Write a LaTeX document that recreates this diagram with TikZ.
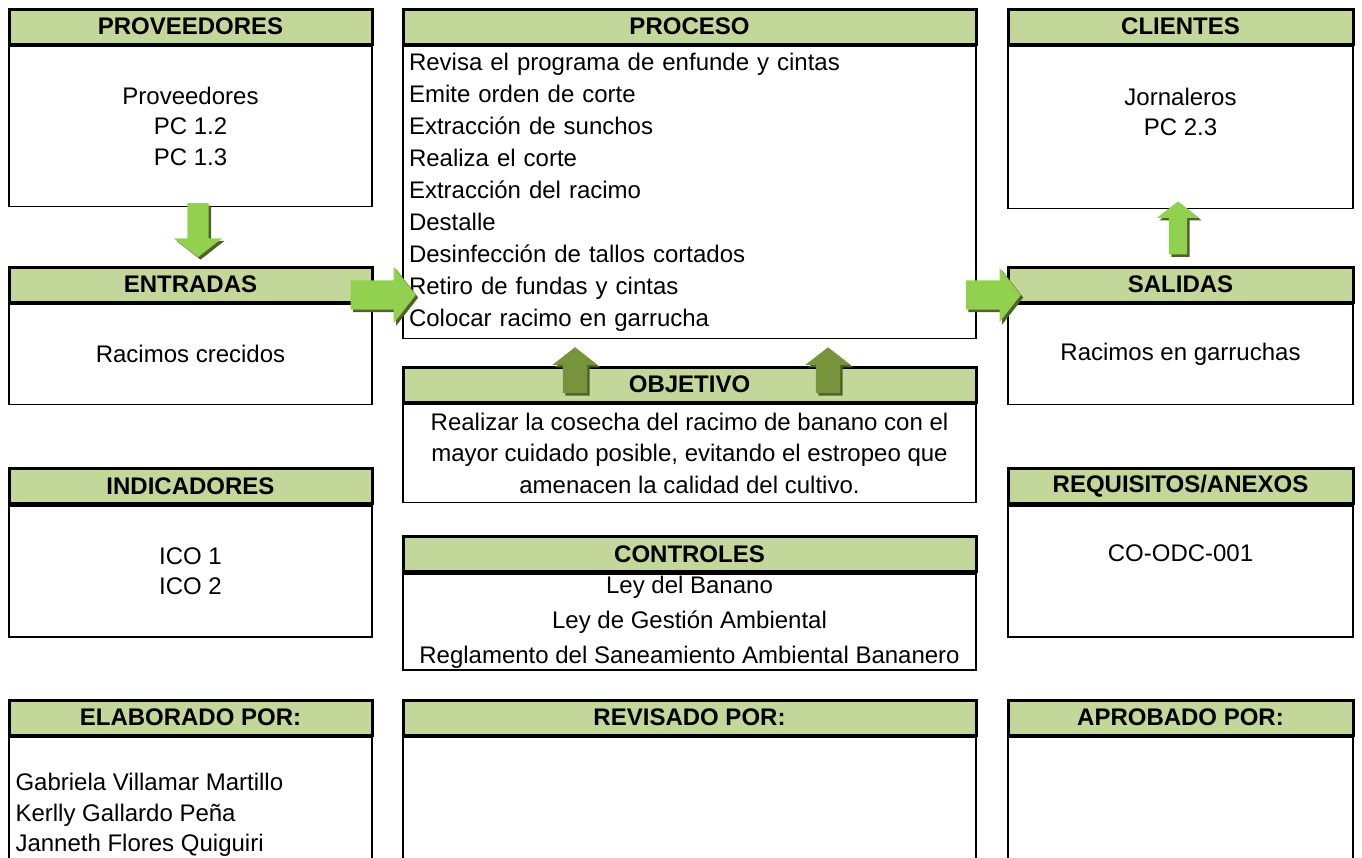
\documentclass[tikz,border=0pt]{standalone}
\usepackage{fontspec}
\setmainfont{Liberation Sans}
\usetikzlibrary{shapes.arrows}
\usetikzlibrary{shadows}
\definecolor{hdrgreen}{HTML}{C4D79B}
\definecolor{arrgreen}{HTML}{92D050}
\definecolor{arrdark}{HTML}{77933C}
\definecolor{arrshadow}{HTML}{4F6228}

\begin{document}
\begin{tikzpicture}[
    x=1pt, y=-1pt,
    every node/.style={font=\fontsize{24}{30.5}\selectfont},
    hdr/.style={draw, line width=3pt, fill=hdrgreen, inner sep=0pt,
        minimum height=35pt, font=\fontsize{24}{28}\selectfont\bfseries},
    bodybox/.style={draw, line width=1.6pt, inner sep=0pt, anchor=north, align=center},
    colL/.style={minimum width=363pt},
    colM/.style={minimum width=573pt},
    colR/.style={minimum width=345pt},
    blockarr/.style={single arrow, fill=arrgreen, inner xsep=0pt,
        single arrow head indent=0pt, single arrow tip angle=104,
        drop shadow={shadow xshift=2.5pt, shadow yshift=-2.5pt, fill=arrshadow, opacity=1}},
    vertarr/.style={blockarr, inner ysep=0pt},
]
\useasboundingbox (0,0) rectangle (1362,857);
% === Left column ===
\node[hdr, colL] (provH) at (190.5, 26.5) {PROVEEDORES};
\node[bodybox, colL, minimum height=160pt] (provB) at (provH.south) {Proveedores\\PC 1.2\\PC 1.3};
\node[hdr, colL] (entH) at (190.5, 284.5) {ENTRADAS};
\node[bodybox, colL, minimum height=100pt] (entB) at (entH.south) {Racimos crecidos};
\node[hdr, colL] (indH) at (190.5, 486) {INDICADORES};
\node[bodybox, colL, minimum height=131pt] (indB) at (indH.south) {ICO 1\\ICO 2};
\node[hdr, colL] (elaH) at (190.5, 717.5) {ELABORADO POR:};
\node[bodybox, colL, minimum height=140pt] (elaB) at (elaH.south) {};
\node[anchor=west, align=left] (elaT) at (12, 815) {Gabriela Villamar Martillo\\Kerlly Gallardo Peña\\Janneth Flores Quiguiri};
% === Middle column ===
\node[hdr, colM] (procH) at (689.5, 26.5) {PROCESO};
\node[bodybox, colM, minimum height=292pt, align=left, text width=561pt, inner xsep=6pt,
    font=\fontsize{24}{32}\selectfont] (procB) at (procH.south)
    {Revisa el programa de enfunde y cintas\\Emite orden de corte\\Extracción de sunchos\\Realiza el corte\\Extracción del racimo\\Destalle\\Desinfección de tallos cortados\\Retiro de fundas y cintas\\Colocar racimo en garrucha};
\node[hdr, colM] (objH) at (689.5, 384.5) {OBJETIVO};
\node[bodybox, colM, minimum height=98pt, font=\fontsize{24}{31.5}\selectfont] (objB) at (objH.south)
    {Realizar la cosecha del racimo de banano con el\\mayor cuidado posible, evitando el estropeo que\\amenacen la calidad del cultivo.};
\node[hdr, colM] (ctrH) at (689.5, 554) {CONTROLES};
\node[bodybox, colM, minimum height=96pt, font=\fontsize{24}{35}\selectfont] (ctrB) at (ctrH.south)
    {Ley del Banano\\Ley de Gestión Ambiental\\Reglamento del Saneamiento Ambiental Bananero};
\node[hdr, colM] (revH) at (689.5, 717.5) {REVISADO POR:};
\node[bodybox, colM, minimum height=140pt] (revB) at (revH.south) {};
% === Right column ===
\node[hdr, colR] (cliH) at (1180.5, 26.5) {CLIENTES};
\node[bodybox, colR, minimum height=162pt] (cliB) at (cliH.south) {};
\node[align=center] (cliT) at (1180.5, 112) {Jornaleros\\PC 2.3};
\node[hdr, colR] (salH) at (1180.5, 284.5) {SALIDAS};
\node[bodybox, colR, minimum height=100pt] (salB) at (salH.south) {Racimos en garruchas};
\node[hdr, colR] (reqH) at (1180.5, 486) {REQUISITOS/ANEXOS};
\node[bodybox, colR, minimum height=131pt] (reqB) at (reqH.south) {};
\node (reqT) at (1180.5, 553) {CO-ODC-001};
\node[hdr, colR] (aprH) at (1180.5, 717.5) {APROBADO POR:};
\node[bodybox, colR, minimum height=140pt] (aprB) at (aprH.south) {};
% === Block arrows ===
\node[vertarr, shape border rotate=270, minimum height=54pt, inner xsep=10.5pt, single arrow head extend=13.5pt] (arrPE) at (198, 226) {};
\node[blockarr, minimum height=65pt, inner ysep=14.5pt, single arrow head extend=13.5pt] (arrEP) at (377.5, 295) {};
\node[blockarr, minimum height=55pt, inner ysep=14.5pt, single arrow head extend=12.5pt] (arrPS) at (987.5, 295) {};
\node[vertarr, shape border rotate=90, minimum height=53pt, inner xsep=9pt, single arrow head extend=12pt] (arrSC) at (1178, 231.5) {};
\node[vertarr, fill=arrdark, shape border rotate=90, minimum height=46pt, inner xsep=12pt, single arrow head extend=10.5pt] (arrO1) at (575, 375) {};
\node[vertarr, fill=arrdark, shape border rotate=90, minimum height=46pt, inner xsep=12pt, single arrow head extend=10.5pt] (arrO2) at (828, 375) {};
\end{tikzpicture}
\end{document}
